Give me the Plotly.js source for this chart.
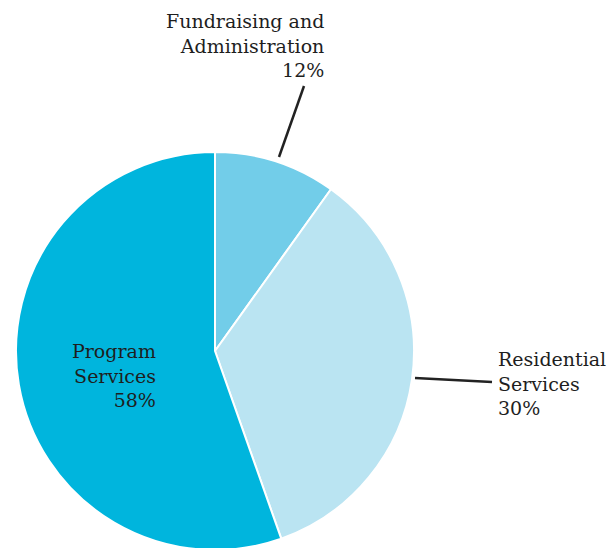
<!DOCTYPE html>
<html>
<head>
<meta charset="utf-8">
<script src="https://cdn.plot.ly/plotly-3.0.1.min.js"></script>
<style>
html,body{margin:0;padding:0;overflow:hidden;background:#fff;}
#chart{width:607px;height:560px;}
</style>
</head>
<body>
<div id="chart"></div>
<script>
var categories = ["Fundraising and Administration", "Residential Services", "Program Services"];
var sliceValues = [9.9, 34.7, 55.4];
var labelTexts = ["Fundraising and<br>Administration<br>12%", "Residential<br>Services<br>30%", "Program<br>Services<br>58%"];
var sliceColors = ["#72cde9", "#bae4f2", "#00b5dd"];

var W = 607, H = 560;
function px(x){ return x / W; }
function py(y){ return 1 - y / H; }

var trace = {
  type: "pie",
  labels: categories,
  values: sliceValues,
  sort: false,
  direction: "clockwise",
  rotation: 0,
  textinfo: "none",
  hoverinfo: "label+percent",
  marker: { colors: sliceColors, line: { color: "#ffffff", width: 2 } },
  domain: { x: [px(16), px(414)], y: [py(550), py(152)] },
  showlegend: false
};

var font = { family: "DejaVu Serif, serif", size: 19, color: "#1e1e1e" };

var layout = {
  width: W, height: H,
  margin: { l: 0, r: 0, t: 0, b: 0 },
  paper_bgcolor: "#ffffff",
  showlegend: false,
  annotations: [
    { text: labelTexts[0], xref: "paper", yref: "paper", x: px(326), y: py(8), xanchor: "right", yanchor: "top", align: "right", showarrow: false, font: font },
    { text: labelTexts[1], xref: "paper", yref: "paper", x: px(496), y: py(346), xanchor: "left", yanchor: "top", align: "left", showarrow: false, font: font },
    { text: labelTexts[2], xref: "paper", yref: "paper", x: px(158), y: py(338), xanchor: "right", yanchor: "top", align: "right", showarrow: false, font: font }
  ],
  shapes: [
    { type: "line", xref: "paper", yref: "paper", x0: px(304), y0: py(86), x1: px(279), y1: py(157), line: { color: "#222222", width: 2.5 } },
    { type: "line", xref: "paper", yref: "paper", x0: px(415), y0: py(378), x1: px(492), y1: py(382), line: { color: "#222222", width: 2.5 } }
  ]
};

Plotly.newPlot("chart", [trace], layout, { displayModeBar: false, staticPlot: true });
</script>
</body>
</html>
